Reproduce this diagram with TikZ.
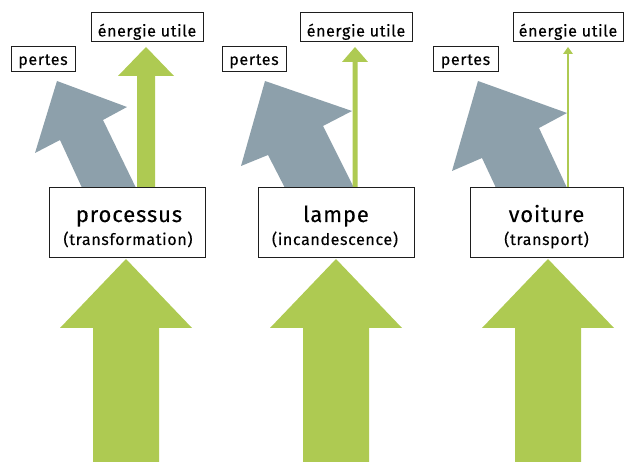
\documentclass[tikz,border=0pt]{standalone}
\usepackage{fontspec}
\setmainfont{Fira Sans}[LetterSpace=4, FakeBold=0.2]
\definecolor{leafgreen}{RGB}{174,202,82}
\definecolor{slategrey}{RGB}{141,160,171}
\definecolor{ink}{RGB}{30,30,30}

\tikzset{
  flow/.style={fill=leafgreen, draw=none},
  loss/.style={fill=slategrey, draw=none},
  procbox/.style={draw=ink, line width=1pt, fill=white, minimum width=156pt,
    minimum height=70pt, inner sep=0pt},
  tagbox/.style={draw=ink, line width=1pt, fill=white, inner sep=0pt,
    font=\fontsize{16}{18}\selectfont},
  usebox/.style={tagbox, minimum width=112pt, minimum height=29pt,
    text height=23.5pt, text depth=5.5pt},
  lossbox/.style={tagbox, minimum width=64pt, minimum height=25pt,
    text height=18pt, text depth=7pt},
  title/.style={font=\fontsize{22}{24}\selectfont, inner sep=0pt, anchor=base},
  subtitle/.style={font=\fontsize{16}{18}\selectfont, inner sep=0pt, anchor=base},
}

\begin{document}
\begin{tikzpicture}[x=1pt, y=-1pt]
  \useasboundingbox (0,0) rectangle (624,462);

  % losses leaving each process (grey, tilted)
  \fill[loss] (83,190) -- (60,140) -- (35,153) -- (57,81) -- (127,107) -- (103,120) -- (137,190) -- cycle;
  \fill[loss] (286,190) -- (268,155) -- (241,166) -- (265,81) -- (352,111) -- (323,126) -- (355,190) -- cycle;
  \fill[loss] (497,190) -- (482,158) -- (452,171) -- (478,81) -- (567,113) -- (539,128) -- (568,190) -- cycle;

  % useful energy leaving each process (green, thinner and thinner)
  \fill[flow] (137,190) -- (137,76) -- (118,76) -- (146,47) -- (174,76) -- (155,76) -- (155,190) -- cycle;
  \fill[flow] (352.5,190) -- (352.5,62) -- (342,62) -- (355,47) -- (368,62) -- (357.5,62) -- (357.5,190) -- cycle;
  \fill[flow] (567.2,190) -- (567.2,54) -- (563,54) -- (568,47) -- (573,54) -- (568.8,54) -- (568.8,190) -- cycle;

  % process boxes
  \node[procbox] (proc) at (127,223) {};
  \node[procbox] (lamp) at (336,223) {};
  \node[procbox, minimum width=153pt] (car) at (546.5,223) {};

  \node[title] (procT) at (129,222) {processus};
  \node[subtitle] (procS) at (128,245) {(transformation)};
  \node[title] (lampT) at (336,222) {lampe};
  \node[subtitle] (lampS) at (335,245) {(incandescence)};
  \node[title] (carT) at (546.5,222) {voiture};
  \node[subtitle] (carS) at (546.5,245) {(transport)};

  % energy supplied to each process
  \foreach \c/\n in {126/proc, 336/lamp, 548/car}{
    \fill[flow] (\c,259) -- (\c+66,328) -- (\c+33,328) -- (\c+33,464)
      -- (\c-33,464) -- (\c-33,328) -- (\c-66,328) -- cycle;
  }

  % output labels
  \node[usebox] (useA) at (147,27.5) {énergie utile};
  \node[usebox] (useB) at (356,27.5) {énergie utile};
  \node[usebox, minimum width=110pt] (useC) at (568,27.5) {énergie utile};
  \node[lossbox] (lossA) at (43,59.5) {pertes};
  \node[lossbox] (lossB) at (254,59.5) {pertes};
  \node[lossbox, minimum width=65pt] (lossC) at (465.5,59.5) {pertes};
\end{tikzpicture}
\end{document}
